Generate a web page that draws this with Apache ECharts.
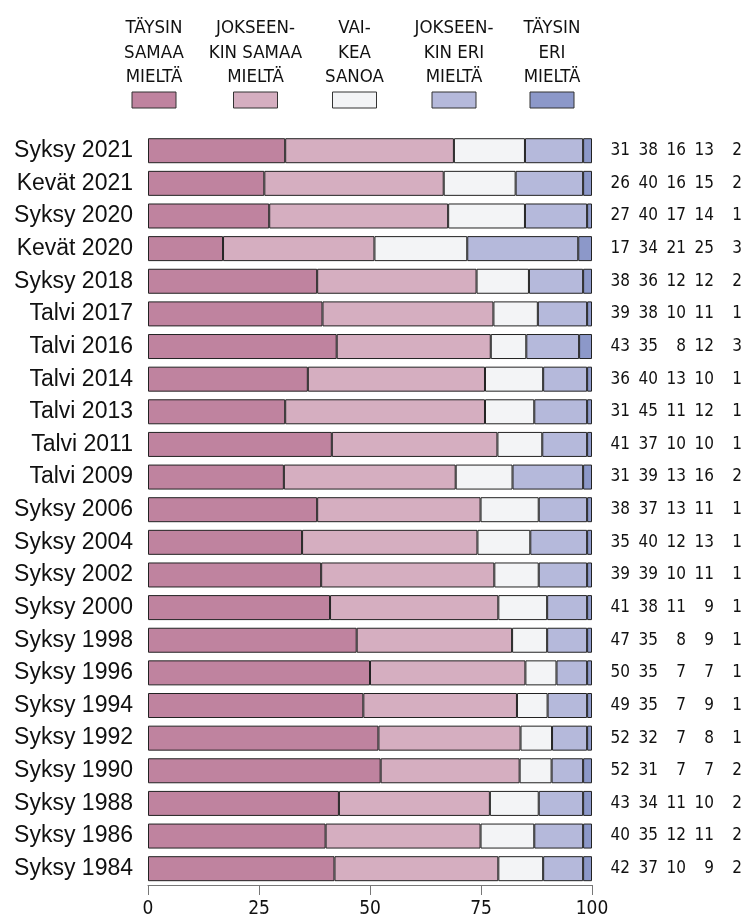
<!DOCTYPE html>
<html>
<head>
<meta charset="utf-8">
<script src="https://cdn.jsdelivr.net/npm/echarts@6/dist/echarts.min.js"></script>
<style>
  html, body { margin: 0; padding: 0; background: #fff; }
  #chart { width: 745px; height: 919px; }
</style>
</head>
<body>
<div id="chart"></div>
<script>
// rivit ylhäältä alas
var categories = ['Syksy 2021', 'Kevät 2021', 'Syksy 2020', 'Kevät 2020', 'Syksy 2018',
    'Talvi 2017', 'Talvi 2016', 'Talvi 2014', 'Talvi 2013', 'Talvi 2011', 'Talvi 2009',
    'Syksy 2006', 'Syksy 2004', 'Syksy 2002', 'Syksy 2000', 'Syksy 1998', 'Syksy 1996',
    'Syksy 1994', 'Syksy 1992', 'Syksy 1990', 'Syksy 1988', 'Syksy 1986', 'Syksy 1984'];

var seriesNames = ['TÄYSIN\nSAMAA\nMIELTÄ', 'JOKSEEN-\nKIN SAMAA\nMIELTÄ', 'VAI-\nKEA\nSANOA',
    'JOKSEEN-\nKIN ERI\nMIELTÄ', 'TÄYSIN\nERI\nMIELTÄ'];
var colors = ['#bf839f', '#d5aec0', '#f3f4f6', '#b5b9db', '#8c98c9'];

// palkkien pituudet (%)
var taysinSamaa = [30.9, 26.2, 27.3, 16.9, 38.1, 39.3, 42.5, 36.0, 30.9, 41.4, 30.6, 38.1, 34.7, 39.0, 41.0, 47.0, 50.0, 48.5, 51.9, 52.4, 43.0, 40.0, 42.0];
var jokseenkinSamaa = [38.0, 40.4, 40.3, 34.1, 35.9, 38.5, 34.7, 39.9, 45.0, 37.3, 38.7, 36.8, 39.5, 39.0, 37.9, 35.0, 35.0, 34.6, 32.0, 31.3, 34.0, 34.9, 36.9];
var vaikeaSanoa = [16.0, 16.2, 17.3, 20.9, 11.8, 10.0, 8.0, 13.1, 11.1, 10.1, 12.8, 13.1, 11.9, 10.0, 11.0, 7.9, 7.0, 6.9, 7.1, 7.2, 11.0, 12.1, 10.1];
var jokseenkinEri = [13.1, 15.2, 14.0, 25.0, 12.2, 11.1, 11.9, 9.9, 11.9, 10.1, 15.9, 10.9, 12.8, 10.9, 9.0, 9.0, 6.9, 8.9, 7.9, 7.1, 10.0, 11.0, 9.0];
var taysinEri = [2.0, 2.0, 1.1, 3.1, 2.0, 1.1, 2.9, 1.1, 1.1, 1.1, 2.0, 1.1, 1.1, 1.1, 1.1, 1.1, 1.1, 1.1, 1.1, 2.0, 2.0, 2.0, 2.0];

// oikean reunan luvut
var lukuSamaa = [31, 26, 27, 17, 38, 39, 43, 36, 31, 41, 31, 38, 35, 39, 41, 47, 50, 49, 52, 52, 43, 40, 42];
var lukuJokSamaa = [38, 40, 40, 34, 36, 38, 35, 40, 45, 37, 39, 37, 40, 39, 38, 35, 35, 35, 32, 31, 34, 35, 37];
var lukuVaikea = [16, 16, 17, 21, 12, 10, 8, 13, 11, 10, 13, 13, 12, 10, 11, 8, 7, 7, 7, 7, 11, 12, 10];
var lukuJokEri = [13, 15, 14, 25, 12, 11, 12, 10, 12, 10, 16, 11, 13, 11, 9, 9, 7, 9, 8, 7, 10, 11, 9];
var lukuEri = [2, 2, 1, 3, 2, 1, 3, 1, 1, 1, 2, 1, 1, 1, 1, 1, 1, 1, 1, 2, 2, 2, 2];

var tickValues = [0, 25, 50, 75, 100];

var narrow = "'Liberation Sans Narrow', 'DejaVu Sans Condensed', sans-serif";
var allValues = [taysinSamaa, jokseenkinSamaa, vaikeaSanoa, jokseenkinEri, taysinEri];
var allLuvut = [lukuSamaa, lukuJokSamaa, lukuVaikea, lukuJokEri, lukuEri];

var myChart = echarts.init(document.getElementById('chart'));

var series = [];
var graphics = [];
var legendX = [154, 255.5, 354.5, 454, 552];
for (var i = 0; i < 5; i++) {
    series.push({
        name: seriesNames[i],
        type: 'bar',
        stack: 'kaikki',
        barWidth: 25,
        data: allValues[i],
        itemStyle: { color: colors[i], borderColor: '#222', borderWidth: 1 },
        emphasis: { disabled: true }
    });
    graphics.push({
        type: 'text',
        x: legendX[i],
        y: 53,
        style: {
            text: seriesNames[i],
            fontFamily: narrow,
            fontSize: 18.5,
            lineHeight: 24.5,
            fill: '#111',
            align: 'center',
            verticalAlign: 'middle'
        }
    });
    graphics.push({
        type: 'rect',
        shape: { x: legendX[i] - 22, y: 92, width: 44, height: 16 },
        style: { fill: colors[i], stroke: '#333', lineWidth: 1 }
    });
}

var richCol = { width: 28, align: 'right', fontFamily: narrow, fontSize: 17, color: '#111' };

myChart.setOption({
    backgroundColor: '#fff',
    animation: false,
    graphic: graphics,
    grid: { left: 148, right: 153, top: 134.4, bottom: 31, containLabel: false },
    xAxis: {
        type: 'value',
        min: 0,
        max: 100,
        interval: 25,
        splitLine: { show: false },
        axisLine: { show: true, lineStyle: { color: '#777', width: 1 } },
        axisTick: { show: true, length: 10, lineStyle: { color: '#777' } },
        axisLabel: {
            margin: 15,
            fontFamily: narrow,
            fontSize: 19,
            color: '#111',
            formatter: function (v) { return tickValues.indexOf(v) >= 0 ? String(v) : ''; }
        }
    },
    yAxis: [{
        type: 'category',
        data: categories,
        inverse: true,
        axisLine: { show: false },
        axisTick: { show: false },
        axisLabel: { margin: 15, fontFamily: "'Liberation Sans', Arial, sans-serif", fontSize: 23, color: '#111' }
    }, {
        type: 'category',
        data: categories,
        inverse: true,
        position: 'right',
        axisLine: { show: false },
        axisTick: { show: false },
        axisLabel: {
            margin: 10,
            formatter: function (v, idx) {
                var s = '';
                for (var k = 0; k < 5; k++) {
                    s += '{c|' + allLuvut[k][idx] + '}';
                }
                return s;
            },
            rich: { c: richCol }
        }
    }],
    series: series
});
</script>
</body>
</html>
